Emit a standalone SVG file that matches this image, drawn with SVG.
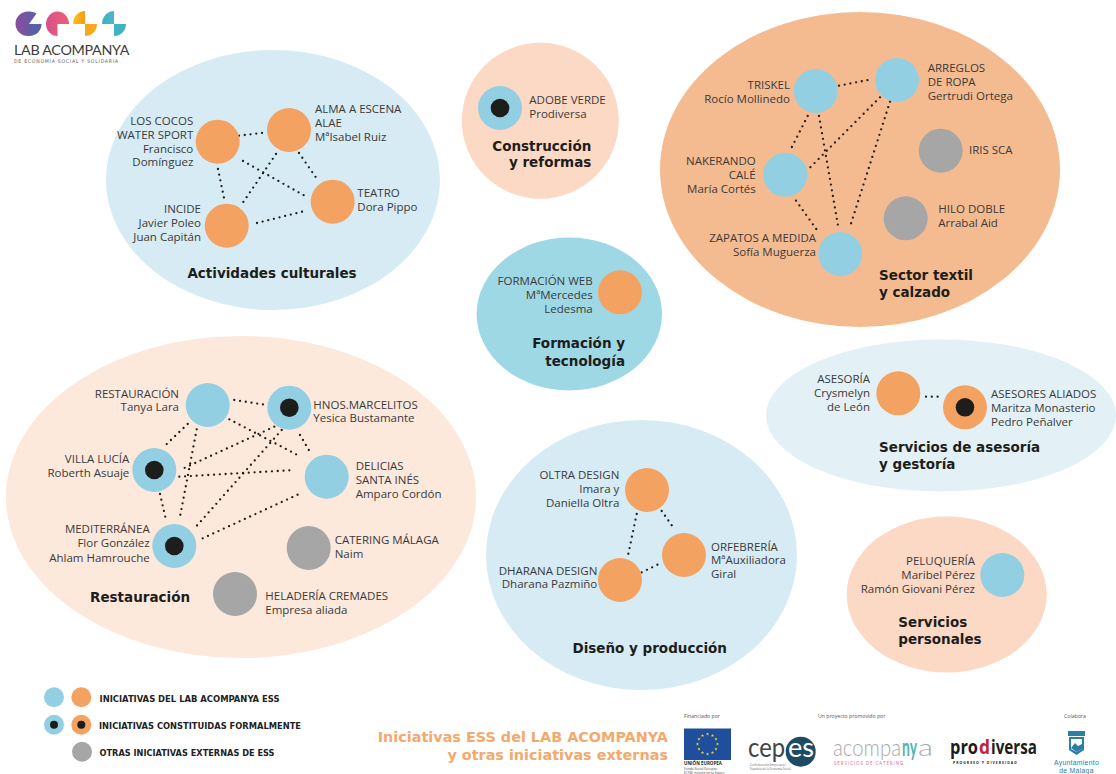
<svg xmlns="http://www.w3.org/2000/svg" width="1116" height="774" viewBox="0 0 1116 774">
<style>
text{font-family:"Open Sans","Noto Sans","Liberation Sans",sans-serif;font-size:11.5px;fill:#3a3a3a}
.r{text-anchor:end}
.t{font-family:"DejaVu Sans",sans-serif;font-weight:700;font-size:13.500px;fill:#1d1d1b}
.m{text-anchor:middle}
.b{fill:#92cfe3}.o{fill:#f4a262}.g{fill:#a6a6a6}.k{fill:#1d1d1b}
.lg{font-family:"DejaVu Sans Condensed","DejaVu Sans",sans-serif;font-weight:700;font-size:9px;fill:#222}
.h{font-family:"DejaVu Sans",sans-serif;font-weight:700;font-size:14.400px;fill:#f4a96c}
.s{font-size:5.200px;fill:#555}
.ac{font-family:Lato,sans-serif;font-weight:300;font-size:24px;fill:#a9a9a9}
.pr{font-family:"Open Sans",sans-serif;font-weight:700;font-size:20px;fill:#1d1d1b}
#connectors line{stroke:#1d1d1b;stroke-width:2.300;stroke-linecap:round;stroke-dasharray:0 5.800;fill:none}
</style>
<defs>
<linearGradient id="lp" x1="0" x2="1"><stop offset="0" stop-color="#8a4f9e"/><stop offset="1" stop-color="#5a5fa9"/></linearGradient>
<linearGradient id="lk" x1="0" x2="1"><stop offset="0" stop-color="#d8518f"/><stop offset="1" stop-color="#ef5f70"/></linearGradient>
<linearGradient id="ly" x1="0" x2="1"><stop offset="0" stop-color="#fcc30f"/><stop offset="1" stop-color="#f59a1e"/></linearGradient>
<linearGradient id="lt" x1="0" x2="1"><stop offset="0" stop-color="#3bb4b8"/><stop offset="1" stop-color="#4fb3d0"/></linearGradient>
<polygon id="star" points="0,-1.6 .45,-.5 1.600,-.5 .7,.2 1,1.400 0,.7 -1,1.400 -.7,.2 -1.600,-.5 -.45,-.5"/>
</defs>
<rect width="1116" height="774" fill="#fff"/>

<g id="sectors">
<ellipse cx="273" cy="180" rx="167" ry="130" fill="#d6ebf3"/>
<ellipse cx="540.300" cy="120.700" rx="78.500" ry="78" fill="#fbd9c4"/>
<ellipse cx="860" cy="169.500" rx="200" ry="157.500" fill="#f5bb90"/>
<ellipse cx="569.300" cy="314" rx="92.700" ry="76.500" fill="#9fd8e5"/>
<ellipse cx="941" cy="415.500" rx="175" ry="76" fill="#e3f1f6"/>
<ellipse cx="241" cy="497" rx="235" ry="161" fill="#fde8dc"/>
<ellipse cx="641.500" cy="555" rx="155.500" ry="135" fill="#d6ebf3"/>
<ellipse cx="946.700" cy="594.500" rx="100" ry="78" fill="#fbd9c4"/>
</g>

<g id="connectors">
<line x1="239" y1="135.700" x2="267" y2="132.300"/>
<line x1="218" y1="169" x2="224" y2="198"/>
<line x1="243" y1="161" x2="305" y2="196"/>
<line x1="276" y1="154" x2="242" y2="204"/>
<line x1="299" y1="153" x2="317" y2="179"/>
<line x1="257" y1="223" x2="305" y2="211"/>
<line x1="234.300" y1="400" x2="266.700" y2="405"/>
<line x1="187.700" y1="424" x2="163.300" y2="447.300"/>
<line x1="196.700" y1="429.300" x2="180" y2="516.700"/>
<line x1="229.300" y1="419.300" x2="300.700" y2="456.700"/>
<line x1="274.300" y1="426.700" x2="180" y2="470"/>
<line x1="281.700" y1="430" x2="196" y2="526.700"/>
<line x1="300" y1="435" x2="311.700" y2="455"/>
<line x1="179.300" y1="476.700" x2="295" y2="470"/>
<line x1="160" y1="494" x2="166" y2="520"/>
<line x1="202.700" y1="538.300" x2="300.700" y2="493.300"/>
<line x1="839" y1="85.700" x2="871.700" y2="79.300"/>
<line x1="807.700" y1="116" x2="790" y2="150.700"/>
<line x1="819" y1="116" x2="838.300" y2="227.300"/>
<line x1="880" y1="97.300" x2="808.300" y2="169.300"/>
<line x1="890" y1="101.700" x2="850" y2="226.700"/>
<line x1="796" y1="200.700" x2="819.300" y2="233.300"/>
<line x1="636.700" y1="514" x2="628.300" y2="554"/>
<line x1="661.700" y1="511" x2="675" y2="530"/>
<line x1="641.700" y1="572.300" x2="661.700" y2="562.700"/>
<line x1="926" y1="396.700" x2="941.700" y2="396.700"/>
</g>

<g id="n-loscocos"><circle class="o" cx="217.700" cy="141.700" r="22"/><text class="r" x="193.300" y="125">LOS COCOS</text><text class="r" x="193.300" y="139">WATER SPORT</text><text class="r" x="193.300" y="152.500">Francisco</text><text class="r" x="193.300" y="166">Domínguez</text></g>
<g id="n-alma"><circle class="o" cx="289" cy="130" r="22"/><text x="315" y="113.300">ALMA A ESCENA</text><text x="315" y="127">ALAE</text><text x="315" y="141">MªIsabel Ruiz</text></g>
<g id="n-teatro"><circle class="o" cx="332.700" cy="201.700" r="22"/><text x="357.300" y="196.700">TEATRO</text><text x="357.300" y="210.700">Dora Pippo</text></g>
<g id="n-incide"><circle class="o" cx="226.700" cy="225.700" r="22"/><text class="r" x="201" y="212.700">INCIDE</text><text class="r" x="201" y="226.700">Javier Poleo</text><text class="r" x="201" y="240.700">Juan Capitán</text></g>
<text class="t m" x="272" y="278">Actividades culturales</text>

<g id="n-adobe"><circle class="b" cx="500" cy="108" r="22"/><circle class="k" cx="500" cy="108" r="9.300"/><text x="529.300" y="104">ADOBE VERDE</text><text x="529.300" y="117.700">Prodiversa</text></g>
<text class="t r" x="591.300" y="150.700">Construcción</text><text class="t r" x="591.300" y="167.300">y reformas</text>

<g id="n-triskel"><circle class="b" cx="815.700" cy="91" r="22"/><text class="r" x="790" y="89">TRISKEL</text><text class="r" x="790" y="103.300">Rocío Mollinedo</text></g>
<g id="n-arreglos"><circle class="b" cx="897" cy="80" r="22"/><text x="927.700" y="72.300">ARREGLOS</text><text x="927.700" y="86.300">DE ROPA</text><text x="927.700" y="100">Gertrudi Ortega</text></g>
<g id="n-nakerando"><circle class="b" cx="785.300" cy="174.700" r="22"/><text class="r" x="755.700" y="165.300">NAKERANDO</text><text class="r" x="755.700" y="179">CALÉ</text><text class="r" x="755.700" y="192.700">María Cortés</text></g>
<g id="n-zapatos"><circle class="b" cx="840.300" cy="254" r="22"/><text class="r" x="816" y="241.700">ZAPATOS A MEDIDA</text><text class="r" x="816" y="256">Sofía Muguerza</text></g>
<g id="n-iris"><circle class="g" cx="940.700" cy="150.700" r="22"/><text x="969" y="154.300">IRIS SCA</text></g>
<g id="n-hilo"><circle class="g" cx="905.700" cy="218.300" r="22"/><text x="938.300" y="213.300">HILO DOBLE</text><text x="938.300" y="226.700">Arrabal Aid</text></g>
<text class="t" x="879" y="280">Sector textil</text><text class="t" x="879" y="297.300">y calzado</text>

<g id="n-formacion"><circle class="o" cx="620" cy="292.300" r="22"/><text class="r" x="592.700" y="285">FORMACIÓN WEB</text><text class="r" x="592.700" y="299.300">MªMercedes</text><text class="r" x="592.700" y="313.300">Ledesma</text></g>
<text class="t r" x="625" y="348.300">Formación y</text><text class="t r" x="625" y="365.700">tecnología</text>

<g id="n-asesoria"><circle class="o" cx="898.300" cy="393.300" r="22"/><text class="r" x="870" y="382.700">ASESORÍA</text><text class="r" x="870" y="397">Crysmelyn</text><text class="r" x="870" y="411">de León</text></g>
<g id="n-aliados"><circle class="o" cx="965" cy="407.300" r="22"/><circle class="k" cx="965" cy="407.300" r="9.300"/><text x="991" y="397.700">ASESORES ALIADOS</text><text x="991" y="411.700">Maritza Monasterio</text><text x="991" y="425.700">Pedro Peñalver</text></g>
<text class="t" x="879" y="451.700">Servicios de asesoría</text><text class="t" x="879" y="469.300">y gestoría</text>

<g id="n-restauracion"><circle class="b" cx="207.700" cy="405" r="22"/><text class="r" x="179" y="397.700">RESTAURACIÓN</text><text class="r" x="179" y="411">Tanya Lara</text></g>
<g id="n-hnos"><circle class="b" cx="289.300" cy="407.700" r="22"/><circle class="k" cx="289.300" cy="407.700" r="9.300"/><text x="313.300" y="409">HNOS.MARCELITOS</text><text x="313.300" y="422.300">Yesica Bustamante</text></g>
<g id="n-villa"><circle class="b" cx="154.300" cy="470" r="22"/><circle class="k" cx="154.300" cy="470" r="9.300"/><text class="r" x="129.300" y="463.300">VILLA LUCÍA</text><text class="r" x="129.300" y="476.700">Roberth Asuaje</text></g>
<g id="n-delicias"><circle class="b" cx="326.700" cy="476.700" r="22"/><text x="355.700" y="470">DELICIAS</text><text x="355.700" y="484">SANTA INÉS</text><text x="355.700" y="497.700">Amparo Cordón</text></g>
<g id="n-mediterranea"><circle class="b" cx="174.300" cy="546" r="22"/><circle class="k" cx="174.300" cy="546" r="9.300"/><text class="r" x="149.700" y="533.300">MEDITERRÁNEA</text><text class="r" x="149.700" y="547">Flor González</text><text class="r" x="149.700" y="561.700">Ahlam Hamrouche</text></g>
<g id="n-catering"><circle class="g" cx="308.700" cy="548" r="22"/><text x="334.700" y="544">CATERING MÁLAGA</text><text x="334.700" y="558.300">Naim</text></g>
<g id="n-heladeria"><circle class="g" cx="235" cy="594" r="22"/><text x="265.300" y="600">HELADERÍA CREMADES</text><text x="265.300" y="614.300">Empresa aliada</text></g>
<text class="t" x="90" y="601.700">Restauración</text>

<g id="n-oltra"><circle class="o" cx="647" cy="490" r="22"/><text class="r" x="619.300" y="479.300">OLTRA DESIGN</text><text class="r" x="619.300" y="493.300">Imara y</text><text class="r" x="619.300" y="507.300">Daniella Oltra</text></g>
<g id="n-orfebreria"><circle class="o" cx="684" cy="555" r="22"/><text x="711" y="550.700">ORFEBRERÍA</text><text x="711" y="564.300">MªAuxiliadora</text><text x="711" y="578.300">Giral</text></g>
<g id="n-dharana"><circle class="o" cx="620" cy="580" r="22"/><text class="r" x="597.300" y="575">DHARANA DESIGN</text><text class="r" x="597.300" y="588.300">Dharana Pazmiño</text></g>
<text class="t m" x="649.700" y="652.700">Diseño y producción</text>

<g id="n-peluqueria"><circle class="b" cx="1002.300" cy="575" r="22"/><text class="r" x="975" y="565">PELUQUERÍA</text><text class="r" x="975" y="579">Maribel Pérez</text><text class="r" x="975" y="592.700">Ramón Giovani Pérez</text></g>
<text class="t" x="898.300" y="626.700">Servicios</text><text class="t" x="898.300" y="644">personales</text>

<g id="legend">
<circle class="b" cx="54" cy="697.300" r="10"/><circle class="o" cx="81.300" cy="697.300" r="10"/>
<circle class="b" cx="54" cy="724.700" r="10"/><circle class="k" cx="54" cy="724.700" r="4"/>
<circle class="o" cx="81.300" cy="724.700" r="10"/><circle class="k" cx="81.300" cy="724.700" r="4"/>
<circle class="g" cx="82" cy="751.700" r="10"/>
<text class="lg" x="99.500" y="701.500" textLength="180" lengthAdjust="spacingAndGlyphs">INICIATIVAS DEL LAB ACOMPANYA ESS</text>
<text class="lg" x="99" y="728.500" textLength="202" lengthAdjust="spacingAndGlyphs">INICIATIVAS CONSTITUIDAS FORMALMENTE</text>
<text class="lg" x="99.500" y="755.500" textLength="175" lengthAdjust="spacingAndGlyphs">OTRAS INICIATIVAS EXTERNAS DE ESS</text>
</g>
<text class="h r" x="668" y="742">Iniciativas ESS del LAB ACOMPANYA</text>
<text class="h r" x="668" y="760">y otras iniciativas externas</text>

<g id="logo">
<path fill="url(#lp)" d="M28 11.500C31 11.500 34 12 36.500 13.500L29 24L29 36L28 36A12.500 12.250 0 0 1 28 11.500Z"/>
<path fill="#5a5fa9" d="M29 24L41.500 24C41.500 31 36 36 29 36Z"/>
<path fill="url(#lk)" d="M46 24A11.500 12.500 0 0 1 69 24L57.500 24L57.500 36A11.500 12 0 0 1 46 24Z"/>
<path fill="url(#ly)" d="M73 24A12 13 0 0 1 85 11L85 24Z"/>
<path fill="#f7a81b" d="M85 24L97 24A12 12 0 0 1 85 36Z"/>
<path fill="url(#lt)" d="M102 24A12 13 0 0 1 114 11L114 24Z"/>
<path fill="#3fb2c4" d="M114 24L126 24A12 12 0 0 1 114 36Z"/>
<text x="14" y="55" style="font-family:Lato,'Open Sans',sans-serif;font-size:14.300px;fill:#3c3c3c;letter-spacing:-.3px">LAB ACOMPANYA</text>
<text x="14" y="63" style="font-family:'DejaVu Sans Condensed',sans-serif;font-size:5.200px;fill:#666;letter-spacing:.72px">DE ECONOMÍA SOCIAL Y SOLIDARIA</text>
</g>

<g id="logos">
<text class="s" x="684" y="717.500">Financiado por</text>
<text class="s" x="818" y="717.500">Un proyecto promovido por</text>
<text class="s" x="1064" y="717.500">Colabora</text>
<rect x="684" y="728.500" width="47" height="31.500" fill="#1f4f9c"/>
<g fill="#f5d327">
<use href="#star" x="707.500" y="734"/><use href="#star" x="712.500" y="735.500"/><use href="#star" x="716" y="739"/><use href="#star" x="717.500" y="744"/><use href="#star" x="716" y="749"/><use href="#star" x="712.500" y="752.500"/><use href="#star" x="707.500" y="754"/><use href="#star" x="702.500" y="752.500"/><use href="#star" x="699" y="749"/><use href="#star" x="697.500" y="744"/><use href="#star" x="699" y="739"/><use href="#star" x="702.500" y="735.500"/>
</g>
<text x="684" y="764.800" style="font-size:4.500px;font-weight:700;fill:#222">UNIÓN EUROPEA</text>
<text x="684" y="769.500" style="font-size:3.300px;fill:#444">Fondo Social Europeo</text>
<text x="684" y="774" style="font-size:3.300px;fill:#444">El FSE invierte en tu futuro</text>
<circle cx="800.700" cy="751.700" r="15" fill="#1f4a64"/>
<text x="748" y="757" style="font-family:Lato,sans-serif;font-size:26px;fill:#444" textLength="37" lengthAdjust="spacingAndGlyphs">cep</text>
<text x="788" y="757" style="font-family:Lato,sans-serif;font-size:26px;fill:#fff" textLength="26" lengthAdjust="spacingAndGlyphs">es</text>
<text x="750" y="766" style="font-size:2.800px;fill:#666">Confederación Empresarial</text>
<text x="750" y="770" style="font-size:2.800px;fill:#666">Española de la Economía Social</text>
<text class="ac" x="833" y="756" textLength="68" lengthAdjust="spacingAndGlyphs">acompa</text>
<text class="ac" x="902" y="756" style="font-weight:700;fill:#4fb5bd" textLength="15" lengthAdjust="spacingAndGlyphs">ny</text>
<text class="ac" x="918" y="756" textLength="15" lengthAdjust="spacingAndGlyphs">a</text>
<text x="834" y="764.500" style="font-size:4.500px;fill:#d56c9c;letter-spacing:.9px">SERVICIOS DE CATERING</text>
<text class="pr" x="950" y="754" textLength="28" lengthAdjust="spacingAndGlyphs">pro</text>
<text class="pr" x="979" y="754" style="fill:#c5203a" textLength="11" lengthAdjust="spacingAndGlyphs">d</text>
<text class="pr" x="991" y="754" textLength="46" lengthAdjust="spacingAndGlyphs">iversa</text>
<text x="953" y="763.500" style="font-size:3.500px;font-weight:700;fill:#222;letter-spacing:1px">PROGRESO Y DIVERSIDAD</text>
<path fill="#2a7ea8" d="M1068 731L1085 731L1085 736L1068 736Z"/>
<path fill="#2a7ea8" d="M1069 737L1084 737L1084 750L1076.500 755L1069 750Z"/>
<path fill="#fff" d="M1071 739L1082 739L1082 749L1076.500 752L1071 749Z"/>
<path fill="#2a7ea8" d="M1071 748L1075 743L1078 746L1082 744L1082 749L1076.500 752Z"/>
<text x="1076.500" y="764.500" class="m" style="font-family:'Liberation Sans',sans-serif;font-size:6.800px;letter-spacing:.3px;fill:#2a7ea8">Ayuntamiento</text>
<text x="1076.500" y="772.500" class="m" style="font-family:'Liberation Sans',sans-serif;font-size:6.800px;letter-spacing:.3px;fill:#2a7ea8">de Málaga</text>
</g>
</svg>
